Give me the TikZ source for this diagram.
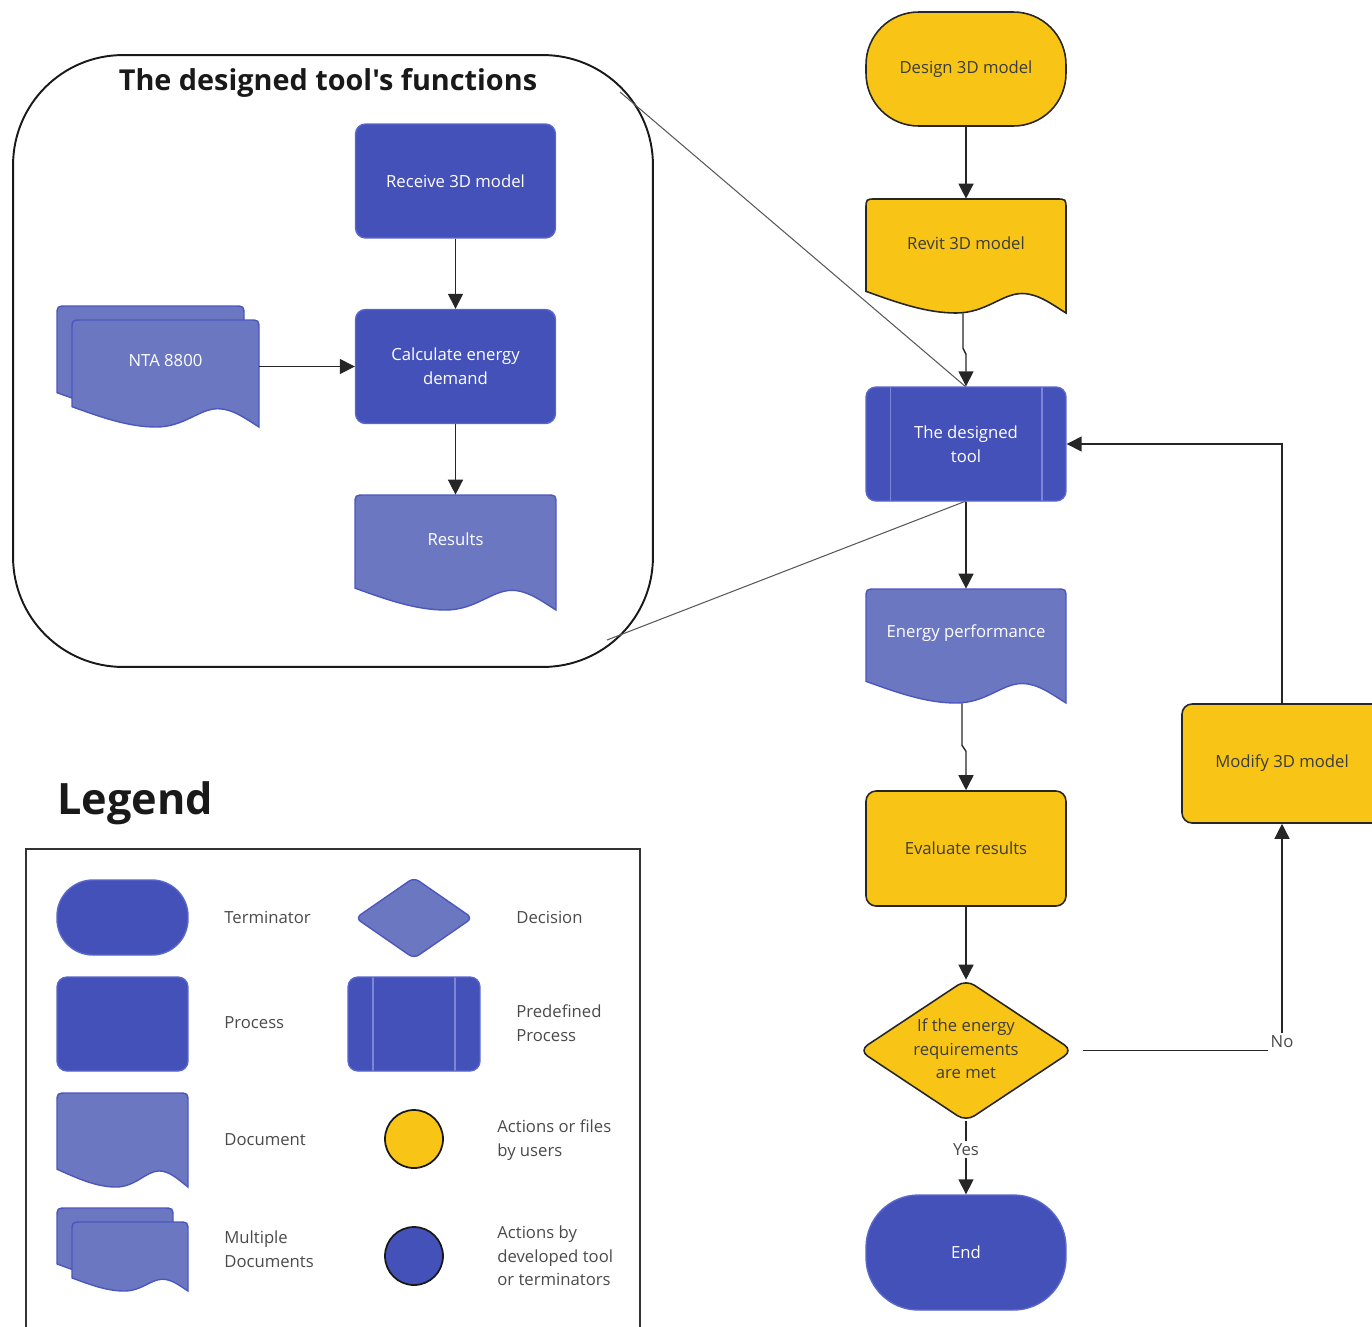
\documentclass[tikz,border=0pt]{standalone}
\usepackage{fontspec}
\setmainfont{Open Sans}
% same family without TeX quote ligatures, for a straight apostrophe
\newfontfamily\plainfont{Open Sans}
\usetikzlibrary{arrows.meta}

\definecolor{ublue}{HTML}{4451B9}
\definecolor{ubluedge}{HTML}{5966CC}
\definecolor{lblue}{HTML}{6C77C1}
\definecolor{lbluedge}{HTML}{4B57BF}
\definecolor{uyellow}{HTML}{F8C516}
\definecolor{txtgray}{HTML}{3C3C3C}
\definecolor{lgtxt}{HTML}{4A4A4A}
\definecolor{sepline}{HTML}{7C87D8}

% document shape: left x, top y, right x, bottom y (right corner), style
\newcommand\docshape[5]{%
  \pgfmathsetmacro\dw{#3-#1}%
  \pgfmathsetmacro\da{0.19*(#4-#2)}%
  \path[#5] (#1,{#4-\da}) -- (#1,{#2+10}) .. controls (#1,#2) .. ({#1+10},#2)
    -- ({#3-10},#2) .. controls (#3,#2) .. (#3,{#2+10}) -- (#3,#4)
    .. controls ({#1+0.93*\dw},{#4-0.4*\da}) and ({#1+0.86*\dw},{#4-0.9*\da}) .. ({#1+0.78*\dw},{#4-0.9*\da})
    .. controls ({#1+0.68*\dw},{#4-0.9*\da}) and ({#1+0.6*\dw},#4) .. ({#1+0.45*\dw},#4)
    .. controls ({#1+0.3*\dw},#4) and ({#1+0.15*\dw},{#4-0.5*\da}) .. (#1,{#4-\da}) -- cycle;}

\begin{document}
\begin{tikzpicture}[x=0.02cm,y=-0.02cm,
  base/.style={font=\fontsize{9.5}{13.4}\selectfont, align=center, inner sep=0pt},
  proc/.style={base, rectangle, rounded corners=0.2cm, fill=ublue, draw=ubluedge,
    line width=0.8pt, text=white, minimum width=4cm, minimum height=2.28cm},
  uproc/.style={proc, fill=uyellow, draw=black!85, line width=0.9pt, text=txtgray},
  term/.style={proc, rounded corners=1.05cm},
  uterm/.style={uproc, rounded corners=1.05cm},
  pred/.style={proc, path picture={
    \draw[sepline, line width=0.6pt]
      ([xshift=#1]path picture bounding box.north west) -- ([xshift=#1]path picture bounding box.south west)
      ([xshift=-#1]path picture bounding box.north east) -- ([xshift=-#1]path picture bounding box.south east);}},
  pred/.default=0.48cm,
  hitbox/.style={rectangle, draw=none, inner sep=0pt},
  doctxt/.style={base, text=white},
  udoctxt/.style={base, text=txtgray},
  docb/.style={fill=lblue, draw=lbluedge, line width=0.8pt},
  docy/.style={fill=uyellow, draw=black!85, line width=0.9pt},
  arr/.style={draw=black!85, line width=0.8pt, -{Triangle[length=0.3cm,width=0.3cm]}},
  zoomline/.style={draw=black!65, line width=0.6pt},
  lbl/.style={base, text=lgtxt, fill=white, inner sep=1.5pt},
  lgtext/.style={base, text=lgtxt, align=left, anchor=west},
  frame/.style={rectangle, draw=black!90, line width=1.1pt, rounded corners=2.2cm}
]
\useasboundingbox (0,0) rectangle (1372,1326);

% ---------- detail frame: functions of the tool ----------
\node[frame, minimum width=12.8cm, minimum height=12.24cm] (fn) at (333,361) {};
\node[font=\plainfont\bfseries\fontsize{16.4}{18}\selectfont, text=black!90] (ttl) at (328,83) {The designed tool's functions};
\coordinate (zA) at (620,92);
\coordinate (zB) at (607,640);

\node[proc] (recv) at (455.5,181) {Receive 3D model};
\node[proc] (calc) at (455.5,366.5) {Calculate energy\\demand};

\docshape{355}{495}{556}{610}{docb}
\node[hitbox, minimum width=4.02cm, minimum height=2.3cm] (res) at (455.5,552.5) {};
\node[doctxt] (resT) at (455.5,539) {Results};

\docshape{57}{306}{244}{413}{docb}
\docshape{72}{320}{259}{427}{docb}
\node[hitbox, minimum width=3.74cm, minimum height=2.14cm] (nta) at (165.5,373.5) {};
\node[doctxt] (ntaT) at (165.5,361) {NTA 8800};

\draw[arr] (recv.south) -- (calc.north);
\draw[arr] (calc.south) -- (res.north);
\draw[arr] (nta.east |- calc.west) -- (calc.west);

% ---------- main flow ----------
\draw[zoomline] (zA) -- (966,387);
\draw[zoomline] (zB) -- (966,501);

\node[uterm] (des) at (966,69) {Design 3D model};

\docshape{866}{199}{1066}{313}{docy}
\node[hitbox, minimum width=4cm, minimum height=2.28cm] (rev) at (966,256) {};
\node[udoctxt] (revT) at (966,243) {Revit 3D model};

\node[pred] (tool) at (966,444) {The designed\\tool};

\docshape{866}{589}{1066}{703}{docb}
\node[hitbox, minimum width=4cm, minimum height=2.28cm] (ene) at (966,646) {};
\node[doctxt] (eneT) at (966,633) {Energy performance};

\node[uproc, minimum height=2.3cm] (eva) at (966,848.5) {Evaluate results};

\node[hitbox, minimum width=4.26cm, minimum height=2.82cm] (dec) at (966,1050.5) {};
\draw[fill=uyellow, draw=black!85, line width=0.9pt, rounded corners=0.2cm]
  (dec.west) -- (dec.north) -- (dec.east) -- (dec.south) -- cycle;
\node[udoctxt] (decT) at (966,1049) {If the energy\\requirements\\are met};

\node[term, minimum height=2.3cm] (fin) at (966,1252.5) {End};

\node[uproc, minimum height=2.38cm] (mod) at (1282,763.5) {Modify 3D model};

\draw[arr] (des.south) -- (rev.north);
\draw[arr] ([xshift=-0.06cm]rev.south) -- ++(0,35) -- ++(3,6) -- (tool.north);
\draw[arr] (tool.south) -- (ene.north);
\draw[arr] ([xshift=-0.08cm]ene.south) -- ++(0,42) -- ++(4,6) -- (eva.north);
\draw[arr] (eva.south) -- (dec.north);
\draw[arr] (dec.south) -- node[lbl, pos=0.39] (yes) {Yes} (fin.north);
\draw[arr] ([xshift=0.2cm]dec.east) -| node[lbl, pos=0.5, text depth=3pt, yshift=3.6pt] (no) {No} (mod.south);
\draw[arr] (mod.north) |- (tool.east);

% ---------- legend ----------
\node[font=\bfseries\fontsize{24.6}{28}\selectfont, text=black!90, anchor=west, inner sep=0pt] (lgt) at (57,803) {Legend};
\node[rectangle, draw=black!80, line width=1.1pt, minimum width=12.28cm, minimum height=9.92cm] (lgbox) at (333,1097) {};

\node[term, rounded corners=0.72cm, minimum width=2.62cm, minimum height=1.5cm] (lgterm) at (122.5,917.5) {};
\node[proc, minimum width=2.62cm, minimum height=1.88cm] (lgproc) at (122.5,1024) {};
\docshape{57}{1093}{188}{1187}{docb}
\node[hitbox, minimum width=2.62cm, minimum height=1.88cm] (lgdoc) at (122.5,1140) {};
\docshape{57}{1208}{173}{1277}{docb}
\docshape{72}{1222}{188}{1291}{docb}
\node[hitbox, minimum width=2.32cm, minimum height=1.38cm] (lgmulti) at (130,1256.5) {};

\node[hitbox, minimum width=2.32cm, minimum height=1.6cm] (lgdec) at (414,918) {};
\draw[fill=lblue, draw=lbluedge, line width=0.8pt, rounded corners=0.12cm]
  (lgdec.west) -- (lgdec.north) -- (lgdec.east) -- (lgdec.south) -- cycle;
\node[pred=0.5cm, minimum width=2.64cm, minimum height=1.88cm] (lgpred) at (414,1024) {};
\node[circle, fill=uyellow, draw=black!90, line width=1pt, minimum size=1.16cm, inner sep=0pt] (lgy) at (414,1139) {};
\node[circle, fill=ublue, draw=black!90, line width=1pt, minimum size=1.16cm, inner sep=0pt] (lgb) at (414,1256) {};

\node[lgtext] (tterm) at (224,917) {Terminator};
\node[lgtext] (tproc) at (224,1023) {Process};
\node[lgtext] (tdoc) at (224,1140) {Document};
\node[lgtext] (tmulti) at (224,1249) {Multiple\\Documents};
\node[lgtext] (tdec) at (516,917) {Decision};
\node[lgtext] (tpred) at (516,1023) {Predefined\\Process};
\node[lgtext] (tuser) at (497,1140) {Actions or files\\by users};
\node[lgtext] (ttool) at (497,1256) {Actions by\\developed tool\\or terminators};
\end{tikzpicture}
\end{document}
